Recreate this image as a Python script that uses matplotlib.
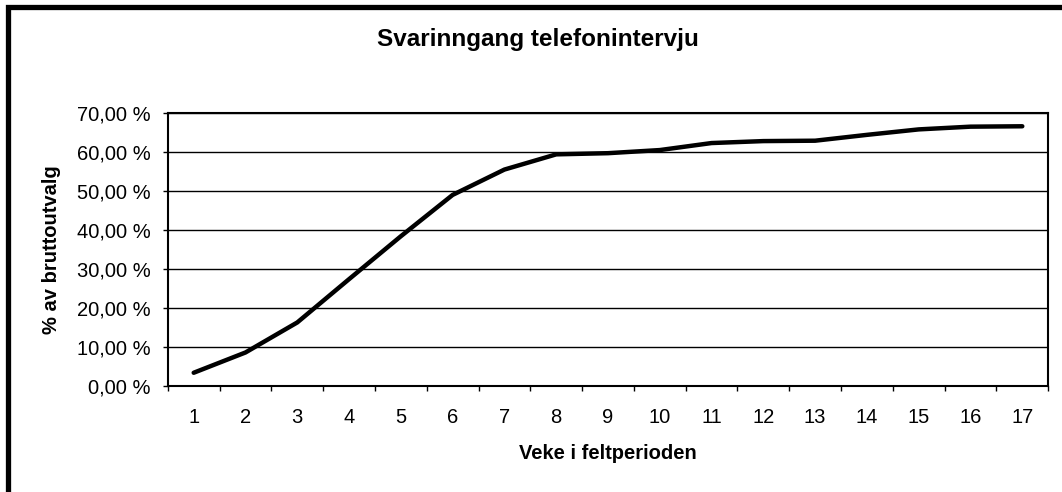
import matplotlib
matplotlib.use("Agg")
import matplotlib.pyplot as plt
from matplotlib.patches import Rectangle
from matplotlib.ticker import FuncFormatter

# data
weeks = list(range(1, 18))
svar_pct = [3.4, 8.6, 16.3, 27.4, 38.4, 49.0, 55.5, 59.4, 59.7, 60.5,
            62.3, 62.8, 62.9, 64.4, 65.8, 66.5, 66.6]

title = "Svarinngang telefonintervju"
xlabel = "Veke i feltperioden"
ylabel = "% av bruttoutvalg"

plt.rcParams['font.family'] = ['Liberation Sans', 'DejaVu Sans']

fig = plt.figure(figsize=(10.62, 4.92), dpi=100)
ax = fig.add_axes([0.158, 0.2154, 0.829, 0.5549])

ax.plot(weeks, svar_pct, color='black', lw=3.2, solid_capstyle='round',
        solid_joinstyle='round', zorder=3)

ax.set_xlim(0.5, 17.5)
ax.set_ylim(0, 70)

# category labels in middle, tick marks on boundaries (Excel style)
ax.set_xticks([w - 0.5 for w in weeks] + [17.5])
ax.set_xticklabels([])
ax.set_xticks(weeks, minor=True)
ax.set_xticklabels([str(w) for w in weeks], minor=True, fontsize=14.5)
ax.tick_params(axis='x', which='major', length=3.6, width=1, direction='out')
ax.tick_params(axis='x', which='minor', length=0, pad=16)

ax.set_yticks(range(0, 71, 10))
ax.yaxis.set_major_formatter(FuncFormatter(lambda v, p: f"{v:.2f}".replace(".", ",") + " %"))
ax.tick_params(axis='y', length=3.6, width=1, direction='out', labelsize=14.5, pad=9)

ax.grid(axis='y', color='black', lw=1)
ax.set_axisbelow(True)
for s in ax.spines.values():
    s.set_linewidth(1.5)
    s.set_color('black')

ax.set_xlabel(xlabel, fontsize=14.5, fontweight='bold', labelpad=12)
ax.set_ylabel(ylabel, fontsize=14.5, fontweight='bold', labelpad=11)
fig.text(0.507, 0.92, title, fontsize=17.5, fontweight='bold', ha='center', va='center')

# outer chart border (only top and left visible in reference)
fig.patches.append(Rectangle((0.0071, -0.2), 1.2, 0.2 + 0.985, transform=fig.transFigure,
                             fill=False, edgecolor='black', lw=3.8, figure=fig))

fig.savefig("out.png", dpi=100)
